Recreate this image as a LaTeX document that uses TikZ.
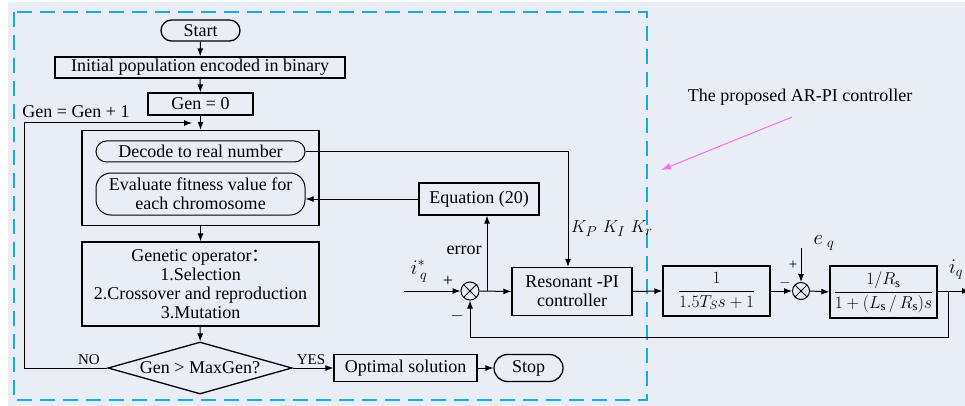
\documentclass[tikz,border=0pt]{standalone}
\usepackage{fontspec}
\setmainfont{Liberation Serif}
\newfontfamily\cjk{Noto Sans CJK SC}
\usetikzlibrary{arrows.meta,shapes.geometric,calc}
\definecolor{bgc}{RGB}{233,237,245}
\definecolor{dashc}{RGB}{25,170,230}
\definecolor{pinkc}{RGB}{250,110,240}
\begin{document}
\begin{tikzpicture}[x=1pt,y=-1pt,
  every node/.style={font=\fontsize{18}{19}\selectfont, inner sep=0pt},
  blk/.style={draw, line width=1.3pt, rectangle, align=center},
  rblk/.style={blk, rounded corners=#1},
  line/.style={line width=1pt},
  arr/.style={line, -{Latex[length=8pt,width=6pt]}},
  sumc/.style={draw, circle, line width=1pt, minimum size=#1},
  small/.style={font=\fontsize{15}{16}\selectfont},
  big/.style={font=\fontsize{21}{22}\selectfont},
]
\useasboundingbox (0,0) rectangle (965,406);
\fill[bgc] (8,2) rectangle (965,406);
\draw[dashc, line width=1.4pt, dash pattern=on 15pt off 8pt] (14,12) rectangle (647,400);

% flowchart
\node[rblk=10.5pt, minimum width=79pt, minimum height=21pt] (start) at (200.5,30.5) {Start};
\node[blk, minimum width=290pt, minimum height=21pt] (init) at (200,67.5) {Initial population encoded in binary};
\node[blk, minimum width=105pt, minimum height=22pt] (gen0) at (200.5,104) {Gen = 0};
\node[blk, minimum width=237pt, minimum height=95pt] (bigbox) at (200.5,178) {};
\node[rblk=10.5pt, line width=1pt, minimum width=209pt, minimum height=21pt] (decode) at (200.5,151.5) {Decode to real number};
\node[rblk=15pt, line width=1pt, minimum width=209pt, minimum height=42pt] (eval) at (200.5,194) {Evaluate fitness value for\\each chromosome};
\node[blk, minimum width=237pt, minimum height=84pt] (gen) at (200.5,284) {Genetic operator{\cjk ：}\\1.Selection\\2.Crossover and reproduction\\3.Mutation};
\node[draw, line width=1.3pt, diamond, aspect=3.54, minimum width=184pt, minimum height=52pt] (dia) at (200,368) {Gen > MaxGen?};
\node[blk, minimum width=143pt, minimum height=27pt] (opt) at (405.5,368) {Optimal solution};
\node[rblk=13.5pt, minimum width=69pt, minimum height=27pt] (stop) at (528.5,368) {Stop};

\coordinate (loopend) at (192,123);
\draw[arr] (start) -- (init);
\draw[arr] (init) -- (gen0);
\draw[arr] (gen0) -- (bigbox);
\draw[arr] (bigbox) -- (gen);
\draw[arr] (gen) -- (dia);
\draw[arr] (dia.east) -- (opt.west);
\draw[arr] (opt.east) -- (stop.west);
\draw[arr] (dia.west) -- ++(-83,0) |- (loopend);
\node (genlbl) at (76,112) {Gen = Gen + 1};
\node[small] (nolbl) at (89,360) {NO};
\node[small] (yeslbl) at (311,360) {YES};

% control part
\node[blk, minimum width=120pt, minimum height=32pt] (eq) at (479,199) {Equation (20)};
\node[blk, minimum width=120pt, minimum height=48pt] (res) at (572,291.5) {Resonant -PI\\controller};
\node[sumc=18pt] (s1) at (470,291) {};
\draw[line] (s1.45) -- (s1.225) (s1.135) -- (s1.315);
\node[blk, minimum width=107pt, minimum height=50pt] (tf1) at (716.5,291) {$\displaystyle\frac{1}{1.5T_S s+1}$};
\node[sumc=17pt] (s2) at (801,291) {};
\draw[line] (s2.45) -- (s2.225) (s2.135) -- (s2.315);
\node[blk, minimum width=107pt, minimum height=52pt] (tf2) at (883.5,292) {$\displaystyle\frac{1/R_{\mathrm{s}}}{1+(L_{\mathrm{s}}\,/\,R_{\mathrm{s}})s}$};

\coordinate (inp) at (404,291);
\coordinate (err) at (487,291);
\coordinate (eqin) at (801,248);
\coordinate (fb) at (948,291);
\coordinate (out) at (970,291);

\draw[arr] (decode.east) -| ([xshift=-4pt]res.north);
\draw[arr] (eq.west) -- (eval.east |- eq.west);
\draw[arr] (inp) -- (s1.west);
\draw[arr] (s1.east) -- (res.west);
\draw[arr] (err) -- (err |- eq.south);
\draw[arr] (res.east) -- (tf1.west);
\draw[arr] (tf1.east) -- (s2.west);
\draw[arr] (s2.east) -- (tf2.west);
\draw[arr] (eqin) -- (s2.north);
\draw[arr] (tf2.east |- fb) -- (out);
\draw[arr] (fb) -- ++(0,46) -| (s1.south);

\node[big] (istar) at (419,271) {$i^{*}_{\,q}$};
\node (p1) at (448,281) {+};
\node (m1) at (457,316) {$-$};
\node (errlbl) at (464,250) {error};
\node[font=\fontsize{19}{20}\selectfont, anchor=west] (klbl) at (571,229) {$K_P\,\,K_I\,\,K_r$};
\node[small] (p2) at (793,265) {+};
\node[small] (m2) at (785,283) {$-$};
\node[big] (eqlbl) at (824,243) {$e_{\;q}$};
\node[big] (iq) at (956,270) {$i_q$};

\node (title) at (800,97) {The proposed AR-PI controller};
\coordinate (pa) at (792,117);
\coordinate (pb) at (661,170);
\draw[pinkc, line width=1pt, -{Latex[length=10pt,width=7pt]}] (pa) -- (pb);
\end{tikzpicture}
\end{document}
